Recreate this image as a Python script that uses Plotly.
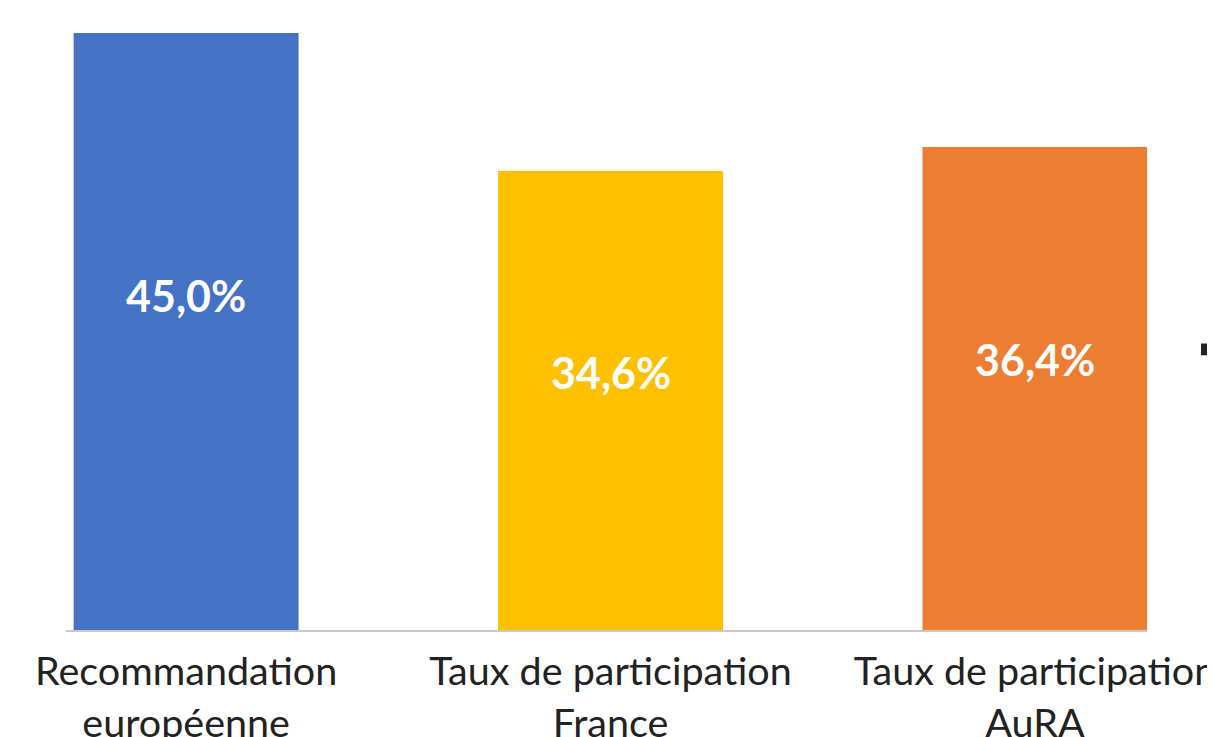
import plotly.graph_objects as go

categories = ["Recommandation<br>européenne", "Taux de participation<br>France", "Taux de participation<br>AuRA"]
values = [45.0, 34.6, 36.4]
colors = ["#4472C4", "#FFC000", "#ED7D31"]

labels = [f"{v:.1f}".replace(".", ",") + "%" for v in values]

fig = go.Figure()
fig.add_trace(go.Bar(
    x=categories, y=values, marker=dict(color=colors, line=dict(width=0)),
    width=0.53, showlegend=False, hoverinfo="skip",
))

for c, v, t in zip(categories, values, labels):
    fig.add_annotation(x=c, y=v * 0.56, text=t, showarrow=False,
                       font=dict(family="Lato", size=43, color="white", weight="bold"))

fig.add_shape(type="rect", xref="paper", yref="paper", x0=1.05, x1=1.2, y0=0.4416, y1=0.4608,
              fillcolor="#222222", line=dict(width=0))

fig.update_layout(
    width=1215, height=737,
    margin=dict(l=58, r=76, t=0, b=112),
    plot_bgcolor="white", paper_bgcolor="white",
    bargap=0.47,
    xaxis=dict(range=[-0.283, 2.264], showline=True, linecolor="#C8C8C8", linewidth=2,
               showgrid=False, ticks="", ticklabelstandoff=6,
               tickfont=dict(family="Lato", size=39.5, color="#222222")),
    yaxis=dict(range=[0, 46.875], visible=False, showgrid=False, zeroline=False),
)

fig.write_html("out.html")
